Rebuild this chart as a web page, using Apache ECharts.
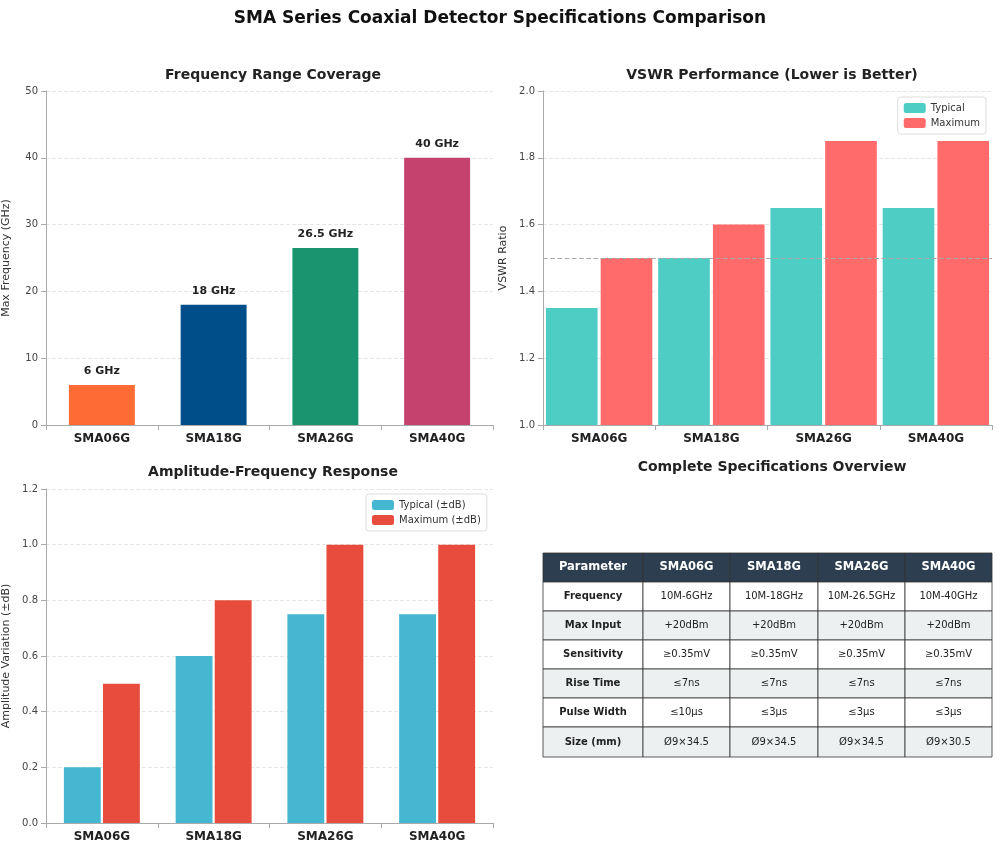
<!DOCTYPE html>
<html>
<head>
<meta charset="utf-8">
<script src="https://cdn.jsdelivr.net/npm/echarts@6/dist/echarts.min.js"></script>
<style>html,body{margin:0;padding:0;background:#fff}#c{width:1000px;height:849px}</style>
</head>
<body>
<div id="c"></div>
<script>
var models = ['SMA06G', 'SMA18G', 'SMA26G', 'SMA40G'];
var maxFreq = [6, 18, 26.5, 40];
var freqLabels = ['6 GHz', '18 GHz', '26.5 GHz', '40 GHz'];
var freqColors = ['#FF6B35', '#004E89', '#1A936F', '#C5426E'];
var vswrTypical = [1.35, 1.5, 1.65, 1.65];
var vswrMax = [1.5, 1.6, 1.85, 1.85];
var ampTypical = [0.2, 0.6, 0.75, 0.75];
var ampMax = [0.5, 0.8, 1.0, 1.0];
var tableHeader = ['Parameter', 'SMA06G', 'SMA18G', 'SMA26G', 'SMA40G'];
var tableRows = [
  ['Frequency', '10M-6GHz', '10M-18GHz', '10M-26.5GHz', '10M-40GHz'],
  ['Max Input', '+20dBm', '+20dBm', '+20dBm', '+20dBm'],
  ['Sensitivity', '≥0.35mV', '≥0.35mV', '≥0.35mV', '≥0.35mV'],
  ['Rise Time', '≤7ns', '≤7ns', '≤7ns', '≤7ns'],
  ['Pulse Width', '≤10μs', '≤3μs', '≤3μs', '≤3μs'],
  ['Size (mm)', 'Ø9×34.5', 'Ø9×34.5', 'Ø9×34.5', 'Ø9×30.5']
];

var font = 'DejaVu Sans';
function xAx(i) {
  return {
    type: 'category', gridIndex: i, data: models,
    axisLine: {lineStyle: {color: '#aaa'}}, axisTick: {show: true, lineStyle: {color: '#aaa'}},
    axisLabel: {color: '#222', fontWeight: 'bold', fontSize: 12, fontFamily: font}
  };
}
function yAx(i, min, max, iv, name) {
  return {
    type: 'value', gridIndex: i, min: min, max: max, interval: iv, name: name,
    nameLocation: 'middle', nameGap: 34,
    nameTextStyle: {color: '#333', fontSize: 11, fontFamily: font},
    axisLine: {show: true, lineStyle: {color: '#aaa'}}, axisTick: {show: true, lineStyle: {color: '#aaa'}},
    axisLabel: {color: '#444', fontSize: 10, fontFamily: font,
      formatter: function (v) { return iv < 1 ? v.toFixed(1) : v; }},
    splitLine: {lineStyle: {color: '#e6e6e6', type: 'dashed'}}
  };
}
var titleStyle = {fontSize: 14, fontWeight: 'bold', color: '#222', fontFamily: font};

// table graphics
var colX = [543, 643, 730, 818, 905, 992];
var rowY = [553, 582, 611, 640, 669, 698, 727, 757];
var gfx = [];
function cell(r, c, txt, header) {
  var x = colX[c], y = rowY[r], w = colX[c + 1] - x, h = rowY[r + 1] - y;
  var fill = header ? '#2C3E50' : (r % 2 === 0 ? '#ECF0F1' : '#ffffff');
  gfx.push({type: 'rect', shape: {x: x, y: y, width: w, height: h},
    style: {fill: fill, stroke: '#333', lineWidth: 0.8}});
  gfx.push({type: 'text', x: x + w / 2, y: y + h / 2,
    style: {text: txt, align: 'center', verticalAlign: 'middle', fontFamily: font,
      fontSize: header ? 11.5 : 10, fontWeight: (header || c === 0) ? 'bold' : 'normal',
      fill: header ? '#fff' : '#222'}});
}
tableHeader.forEach(function (t, c) { cell(0, c, t, true); });
tableRows.forEach(function (row, r) { row.forEach(function (t, c) { cell(r + 1, c, t, false); }); });

var chart = echarts.init(document.getElementById('c'));
chart.setOption({
  animation: false,
  title: [
    {text: 'SMA Series Coaxial Detector Specifications Comparison', left: 'center', top: 5,
      textStyle: {fontSize: 17, fontWeight: 'bold', color: '#111', fontFamily: font}},
    {text: 'Frequency Range Coverage', left: 268, top: 63, textAlign: 'center', textStyle: titleStyle},
    {text: 'VSWR Performance (Lower is Better)', left: 767, top: 63, textAlign: 'center', textStyle: titleStyle},
    {text: 'Amplitude-Frequency Response', left: 268, top: 460, textAlign: 'center', textStyle: titleStyle},
    {text: 'Complete Specifications Overview', left: 767, top: 455, textAlign: 'center', textStyle: titleStyle}
  ],
  legend: [
    {data: ['Typical', 'Maximum'], orient: 'vertical', right: 14, top: 97, itemWidth: 22, itemHeight: 10,
      itemGap: 5, padding: 6, borderColor: '#ddd', borderWidth: 1, borderRadius: 3,
      textStyle: {fontSize: 10, color: '#333', fontFamily: font}},
    {data: ['Typical (±dB)', 'Maximum (±dB)'], orient: 'vertical', left: 366, top: 494, itemWidth: 22, itemHeight: 10,
      itemGap: 5, padding: 6, borderColor: '#ddd', borderWidth: 1, borderRadius: 3,
      textStyle: {fontSize: 10, color: '#333', fontFamily: font}}
  ],
  grid: [
    {left: 44, top: 91, width: 449, height: 334},
    {left: 543, top: 91, width: 449, height: 334},
    {left: 44, top: 489, width: 449, height: 334}
  ],
  xAxis: [xAx(0), xAx(1), xAx(2)],
  yAxis: [
    yAx(0, 0, 50, 10, 'Max Frequency (GHz)'),
    yAx(1, 1.0, 2.0, 0.2, 'VSWR Ratio'),
    yAx(2, 0, 1.2, 0.2, 'Amplitude Variation (±dB)')
  ],
  series: [
    {type: 'bar', xAxisIndex: 0, yAxisIndex: 0, barWidth: '59%',
      data: maxFreq.map(function (v, i) { return {value: v, itemStyle: {color: freqColors[i]}}; }),
      label: {show: true, position: 'top', distance: 8, fontWeight: 'bold', fontSize: 11, color: '#222', fontFamily: font,
        formatter: function (p) { return freqLabels[p.dataIndex]; }}},
    {name: 'Typical', type: 'bar', xAxisIndex: 1, yAxisIndex: 1, data: vswrTypical, barWidth: '46%', barGap: '6%',
      itemStyle: {color: '#4ECDC4'},
      markLine: {silent: true, symbol: 'none', label: {show: false},
        lineStyle: {color: '#aaa', type: 'dashed', width: 1.2}, data: [{yAxis: 1.5}]}},
    {name: 'Maximum', type: 'bar', xAxisIndex: 1, yAxisIndex: 1, data: vswrMax, barWidth: '46%', barGap: '6%',
      itemStyle: {color: '#FF6B6B'}},
    {name: 'Typical (±dB)', type: 'bar', xAxisIndex: 2, yAxisIndex: 2, data: ampTypical, barWidth: '33%', barGap: '6%',
      itemStyle: {color: '#45B7D1'}},
    {name: 'Maximum (±dB)', type: 'bar', xAxisIndex: 2, yAxisIndex: 2, data: ampMax, barWidth: '33%', barGap: '6%',
      itemStyle: {color: '#E74C3C'}}
  ],
  graphic: gfx
});
</script>
</body>
</html>
